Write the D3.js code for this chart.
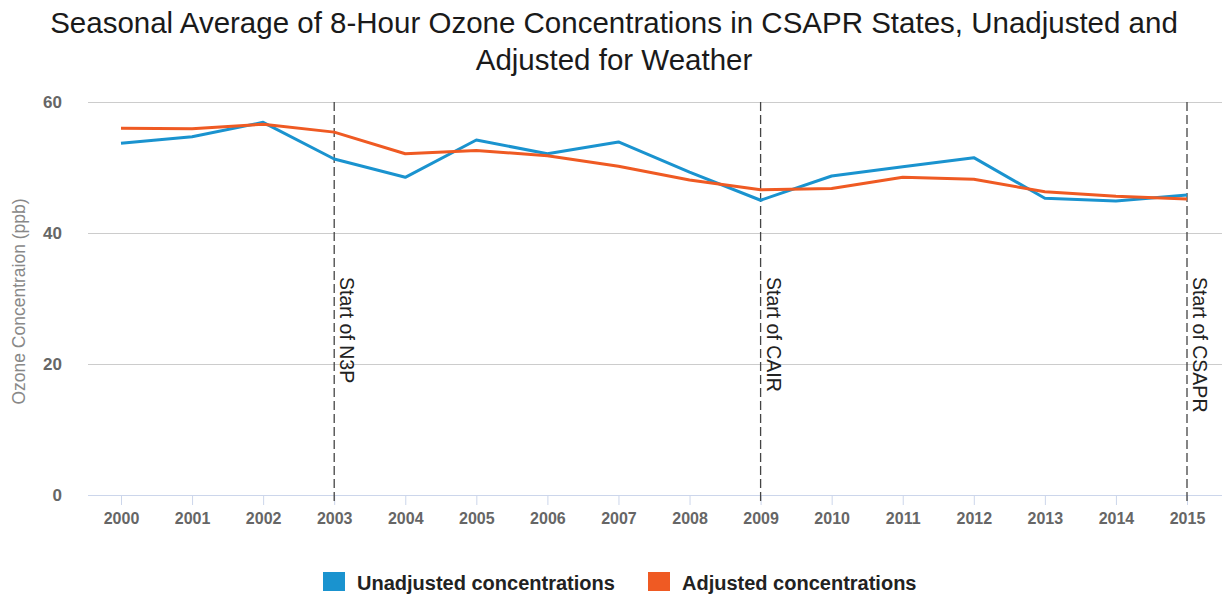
<!DOCTYPE html>
<html><head><meta charset="utf-8">
<script src="https://cdn.jsdelivr.net/npm/d3@7"></script>
<style>body{margin:0;background:#fff}svg{display:block;font-family:"Liberation Sans",Arial,sans-serif}</style>
</head><body><svg id="c" width="1225" height="595"></svg>
<script>
const years = [2000,2001,2002,2003,2004,2005,2006,2007,2008,2009,2010,2011,2012,2013,2014,2015];
const unadjusted = [53.7,54.7,56.9,51.3,48.5,54.2,52.1,53.9,49.3,45.0,48.7,50.1,51.5,45.3,44.9,45.8];
const adjusted = [56.0,55.9,56.6,55.4,52.1,52.6,51.8,50.2,48.1,46.6,46.8,48.5,48.2,46.3,45.6,45.2];
const yTicks = [0,20,40,60];
const events = [{year:2003,label:"Start of N3P"},{year:2009,label:"Start of CAIR"},{year:2015,label:"Start of CSAPR"}];
const seriesNames = ["Unadjusted concentrations","Adjusted concentrations"];
const colors = ["#1a93cf","#ef5a23"];
const titleLines = ["Seasonal Average of 8-Hour Ozone Concentrations in CSAPR States, Unadjusted and","Adjusted for Weather"];

const svg = d3.select("#c");
const L=88, R=1222, T=102, B=495;
const x = d3.scalePoint().domain(years).range([121,1187]);
const y = d3.scaleLinear().domain([0,60]).range([B,T]);

svg.append("g").selectAll("text").data(titleLines).join("text")
  .attr("x",614).attr("y",(d,i)=>33+i*37).attr("text-anchor","middle")
  .attr("font-size",29.5).attr("fill","#1a1a1a").text(d=>d);

// grid
const gy = svg.append("g").attr("transform",`translate(${L},0)`)
  .call(d3.axisLeft(y).tickValues(yTicks).tickSize(-(R-L)).tickPadding(26));
gy.select(".domain").remove();
gy.selectAll(".tick line").attr("stroke",(d)=>d===0?"none":"#cccccc");
gy.selectAll(".tick text").attr("font-size",17).attr("font-weight","bold").attr("fill","#666").attr("font-family","Liberation Sans, Arial, sans-serif");

// x axis
const gx = svg.append("g").attr("transform",`translate(0,${B})`)
  .call(d3.axisBottom(x).tickSize(10).tickPadding(8).tickFormat(d3.format("d")));
gx.select(".domain").attr("d",`M${L},0.5H${R}`).attr("stroke","#ccd6eb");
gx.selectAll(".tick line").attr("stroke","#ccd6eb");
gx.selectAll(".tick text").attr("font-size",16).attr("font-weight","bold").attr("fill","#666").attr("font-family","Liberation Sans, Arial, sans-serif");

// y label
svg.append("text").attr("transform",`translate(25,${(T+B)/2+3}) rotate(-90)`)
  .attr("text-anchor","middle").attr("font-size",17.5).attr("fill","#888").text("Ozone Concentraion (ppb)");

// event lines
const ev = svg.append("g").selectAll("g").data(events).join("g");
ev.append("line").attr("x1",d=>x(d.year)).attr("x2",d=>x(d.year)).attr("y1",T).attr("y2",B+7)
  .attr("stroke","#444").attr("stroke-width",1.3).attr("stroke-dasharray","9,4");
ev.append("text").attr("transform",d=>`translate(${x(d.year)+6},277) rotate(90)`)
  .attr("font-size",19.5).attr("fill","#222").text(d=>d.label);

// lines
const line = d3.line().x((d,i)=>x(years[i])).y(d=>y(d));
[unadjusted,adjusted].forEach((s,k)=>{
  svg.append("path").datum(s).attr("d",line).attr("fill","none")
    .attr("stroke",colors[k]).attr("stroke-width",3).attr("stroke-linejoin","round");
});

// legend
const lg = svg.append("g");
const lx = [323,648];
seriesNames.forEach((n,k)=>{
  lg.append("rect").attr("x",lx[k]).attr("y",572).attr("width",22).attr("height",19).attr("fill",colors[k]);
  lg.append("text").attr("x",lx[k]+34).attr("y",590).attr("font-size",20).attr("font-weight","bold").attr("fill","#222").text(n);
});
</script></body></html>
